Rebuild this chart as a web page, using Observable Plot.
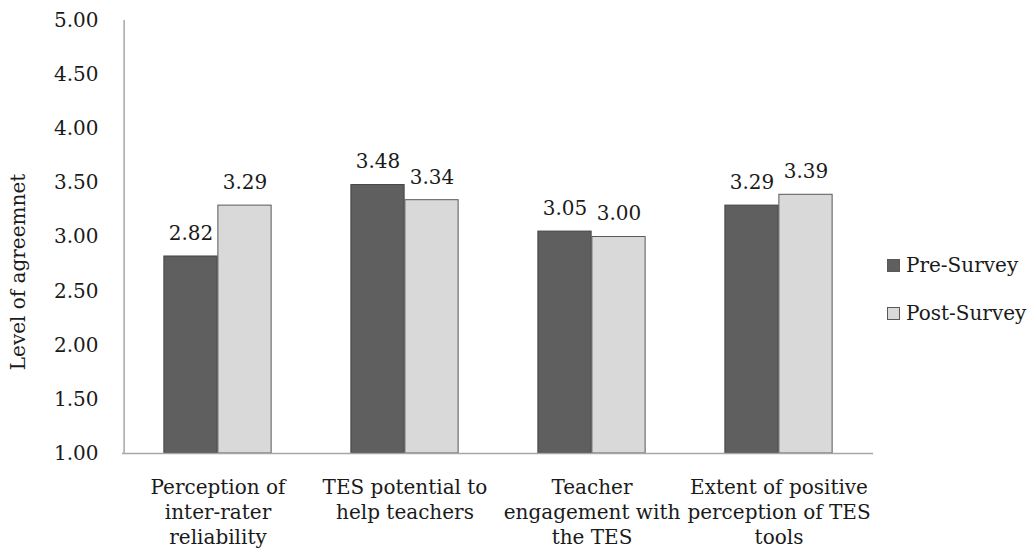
<!DOCTYPE html>
<html>
<head>
<meta charset="utf-8">
<script src="https://cdn.jsdelivr.net/npm/d3@7"></script>
<script src="https://cdn.jsdelivr.net/npm/@observablehq/plot@0.6"></script>
<style>
  html, body { margin: 0; padding: 0; background: #fff; }
  #wrap { position: relative; width: 1036px; height: 559px; font-family: "DejaVu Serif", serif; }
  .leg { position: absolute; left: 887px; display: flex; align-items: center; font-size: 20px; color: #1a1a1a; }
  .sw { width: 11px; height: 11px; margin-right: 6px; border: 1px solid #595959; }
</style>
</head>
<body>
<div id="wrap"></div>
<script>
const categories = [
  "Perception of\ninter-rater\nreliability",
  "TES potential to\nhelp teachers",
  "Teacher\nengagement with\nthe TES",
  "Extent of positive\nperception of TES\ntools"
];
const preSurvey = [2.82, 3.48, 3.05, 3.29];
const postSurvey = [3.29, 3.34, 3.00, 3.39];
const yTicks = [1.0, 1.5, 2.0, 2.5, 3.0, 3.5, 4.0, 4.5, 5.0];
const seriesNames = ["Pre-Survey", "Post-Survey"];
const seriesColors = ["#5f5f5f", "#d9d9d9"];
const yLabel = ["Level of agreemnet"];

const rows = categories.map((c, i) => ({category: c, pre: preSurvey[i], post: postSurvey[i]}));

const bw = (873 - 122) / 4;
const half = bw / 2;
const barW = 54;

const chart = Plot.plot({
  width: 1036,
  height: 559,
  marginLeft: 122,
  marginRight: 163,
  marginTop: 20,
  marginBottom: 106,
  style: {fontFamily: "DejaVu Serif, serif", fontSize: "20px", color: "#1a1a1a", background: "#fff"},
  x: {domain: categories, padding: 0, axis: null},
  y: {domain: [1, 5], ticks: yTicks, tickFormat: d3.format(".2f"), tickSize: 0, tickPadding: 24, label: null},
  marks: [
    Plot.barY(rows, {x: "category", y1: 1, y2: "pre", fill: seriesColors[0], stroke: "#444", strokeWidth: 1,
      insetLeft: half - barW, insetRight: half}),
    Plot.barY(rows, {x: "category", y1: 1, y2: "post", fill: seriesColors[1], stroke: "#595959", strokeWidth: 1,
      insetLeft: half, insetRight: half - barW}),
    Plot.text(rows, {x: "category", y: "pre", text: d => d.pre.toFixed(2), dx: -barW / 2, dy: -23, fontSize: 20, fill: "#1a1a1a"}),
    Plot.text(rows, {x: "category", y: "post", text: d => d.post.toFixed(2), dx: barW / 2, dy: -23, fontSize: 20, fill: "#1a1a1a"}),
    Plot.text(categories, {x: d => d, frameAnchor: "bottom", lineAnchor: "top", dy: 23, lineHeight: 1.25, fontSize: 20, fill: "#1a1a1a"}),
    Plot.ruleY([1], {stroke: "#a6a6a6", strokeWidth: 1.5}),
    Plot.ruleX([categories[0]], {x: d => d, dx: -half, stroke: "#a6a6a6", strokeWidth: 1.5}),
    Plot.text(yLabel, {frameAnchor: "left", textAnchor: "middle", dx: -104, dy: 35, rotate: -90, fontSize: 20, fill: "#1a1a1a"})
  ]
});

const wrap = document.getElementById("wrap");
wrap.appendChild(chart);
const legTops = [253, 301];
seriesNames.forEach((name, i) => {
  const d = document.createElement("div");
  d.className = "leg";
  d.style.top = legTops[i] + "px";
  d.innerHTML = `<span class="sw" style="background:${seriesColors[i]}"></span><span>${name}</span>`;
  wrap.appendChild(d);
});
</script>
</body>
</html>
